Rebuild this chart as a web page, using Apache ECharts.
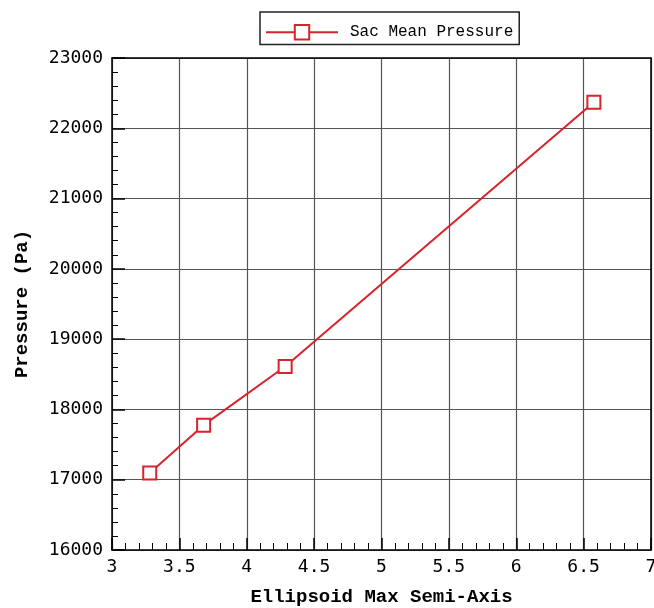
<!DOCTYPE html>
<html>
<head>
<meta charset="utf-8">
<script src="https://cdn.jsdelivr.net/npm/echarts@6/dist/echarts.min.js"></script>
<style>html,body{margin:0;padding:0;background:#fff}#c{width:654px;height:608px}</style>
</head>
<body>
<div id="c"></div>
<script>
const seriesName = 'Sac Mean Pressure';
const semiAxis = [3.28, 3.68, 4.285, 6.576];
const pressure = [17096, 17776, 18610, 22370];
const xTitle = 'Ellipsoid Max Semi-Axis';
const yTitle = 'Pressure (Pa)';

const chart = echarts.init(document.getElementById('c'), null, {renderer: 'canvas'});
const red = '#d8232a';
const tickFont = {fontFamily: 'DejaVu Sans Mono', fontSize: 18, color: '#000'};
const titleFont = {fontFamily: 'Liberation Mono', fontWeight: 'bold', fontSize: 19, color: '#000'};
chart.setOption({
  animation: false,
  backgroundColor: '#fff',
  legend: {
    left: 260, top: 12,
    data: [seriesName],
    itemWidth: 72, itemHeight: 18,
    padding: [12, 6, 4, 5],
    borderColor: '#222', borderWidth: 1.5,
    textStyle: {fontFamily: 'Liberation Mono', fontSize: 16, color: '#000', padding: [0, 0, 0, 7]}
  },
  grid: {left: 112, right: 3, top: 58, bottom: 58, containLabel: false, outerBoundsMode: 'none'},
  xAxis: [{
    type: 'value', min: 3, max: 7, interval: 0.5,
    name: xTitle, nameLocation: 'middle', nameGap: 38, nameTextStyle: titleFont,
    axisLine: {show: true, lineStyle: {color: '#000', width: 1.5}},
    axisTick: {show: true, inside: true, length: 12, lineStyle: {color: '#000', width: 1.5}},
    minorTick: {show: true, splitNumber: 5, length: 7, lineStyle: {color: '#000', width: 1}},
    axisLabel: Object.assign({margin: 8, formatter: v => String(v)}, tickFont),
    splitLine: {show: true, lineStyle: {color: '#555', width: 1.2}}
  }, {
    type: 'value', min: 3, max: 7, position: 'top',
    axisLine: {show: true, onZero: false, lineStyle: {color: '#000', width: 1.5}},
    axisTick: {show: false}, axisLabel: {show: false}, splitLine: {show: false}
  }],
  yAxis: [{
    type: 'value', min: 16000, max: 23000, interval: 1000,
    name: yTitle, nameLocation: 'middle', nameGap: 80, nameRotate: 90, nameTextStyle: titleFont,
    axisLine: {show: true, lineStyle: {color: '#000', width: 1.5}},
    axisTick: {show: true, inside: true, length: 13, lineStyle: {color: '#000', width: 1.5}},
    minorTick: {show: true, splitNumber: 5, length: 6, lineStyle: {color: '#000', width: 1}},
    axisLabel: Object.assign({margin: 9, formatter: v => String(v)}, tickFont),
    splitLine: {show: true, lineStyle: {color: '#555', width: 1.2}}
  }, {
    type: 'value', min: 16000, max: 23000, position: 'right',
    axisLine: {show: true, onZero: false, lineStyle: {color: '#000', width: 1.5}},
    axisTick: {show: false}, axisLabel: {show: false}, splitLine: {show: false}
  }],
  series: [{
    name: seriesName, type: 'line',
    data: semiAxis.map((x, i) => [x, pressure[i]]),
    symbol: 'rect', symbolSize: 13,
    itemStyle: {color: '#fff', borderColor: red, borderWidth: 2},
    lineStyle: {color: red, width: 2},
    emphasis: {disabled: true}
  }]
});
</script>
</body>
</html>
